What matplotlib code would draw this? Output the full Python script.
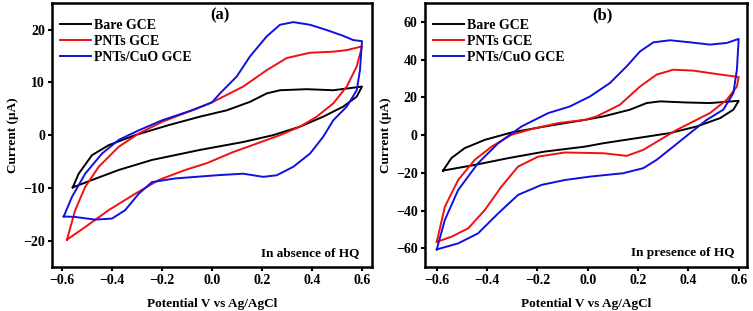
import matplotlib
matplotlib.use("Agg")
import matplotlib.pyplot as plt

plt.rcParams['font.family'] = ['Liberation Serif', 'DejaVu Serif']
plt.rcParams['font.weight'] = 'bold'

# ---- panel (a): in absence of HQ ----
a_bare_v = [-0.557, -0.533, -0.48, -0.413, -0.307, -0.173, -0.048, 0.059, 0.152, 0.219, 0.272, 0.379, 0.485,
            0.552, 0.6,
            0.579, 0.525, 0.445, 0.352, 0.245, 0.125, -0.048, -0.24, -0.373, -0.48, -0.557]
a_bare_i = [-9.9, -7.3, -3.8, -1.9, 0.0, 1.9, 3.5, 4.7, 6.3, 7.9, 8.5, 8.7, 8.5,
            8.9, 9.2,
            7.3, 5.4, 3.5, 1.6, 0.0, -1.3, -2.8, -4.7, -6.6, -8.5, -9.9]

a_pnt_v = [-0.58, -0.547, -0.507, -0.453, -0.373, -0.293, -0.2, -0.08, 0.0, 0.125, 0.219, 0.299, 0.392,
           0.485, 0.539, 0.6,
           0.579, 0.539, 0.485, 0.419, 0.352, 0.272, 0.179, 0.085, -0.02, -0.107, -0.213, -0.307,
           -0.413, -0.507, -0.58]
a_pnt_i = [-19.8, -14.2, -9.8, -6.0, -2.2, 0.3, 2.5, 4.7, 6.2, 9.2, 12.3, 14.6, 15.6,
           15.8, 16.1, 16.8,
           13.0, 9.2, 6.0, 3.5, 1.6, 0.0, -1.6, -3.2, -5.3, -6.6, -8.5, -11.1,
           -14.2, -17.4, -19.8]

a_cuo_v = [-0.593, -0.56, -0.507, -0.44, -0.373, -0.293, -0.2, -0.08, 0.0, 0.032, 0.099, 0.152, 0.219,
           0.272, 0.325, 0.392, 0.459, 0.525, 0.565, 0.6,
           0.592, 0.579, 0.539, 0.485, 0.445, 0.392, 0.325, 0.259, 0.205, 0.125, 0.019, -0.147,
           -0.24, -0.293, -0.347, -0.4, -0.467, -0.547, -0.593]
a_cuo_i = [-15.4, -11.7, -7.3, -3.5, -0.9, 0.9, 2.8, 4.7, 6.2, 7.9, 11.1, 14.9, 18.7,
           20.9, 21.4, 20.9, 19.9, 18.8, 18.0, 17.8,
           12.3, 8.5, 5.4, 2.8, -0.3, -3.5, -6.0, -7.6, -7.9, -7.3, -7.6, -8.2,
           -8.9, -11.1, -14.2, -15.8, -16.0, -15.5, -15.4]

# ---- panel (b): in presence of HQ ----
b_bare_v = [-0.575, -0.542, -0.489, -0.409, -0.303, -0.17, -0.011, 0.062, 0.168, 0.234, 0.287, 0.394,
            0.486, 0.6,
            0.579, 0.526, 0.433, 0.327, 0.195, 0.062, -0.011, -0.17, -0.316, -0.449, -0.575]
b_bare_i = [-18.8, -12.2, -6.9, -2.5, 1.4, 4.6, 8.1, 9.9, 13.5, 17.0, 17.9, 17.3,
            17.0, 18.2,
            13.5, 9.0, 4.6, 1.1, -1.6, -4.3, -6.1, -8.7, -12.2, -15.8, -18.8]

b_pnt_v = [-0.6, -0.568, -0.515, -0.449, -0.382, -0.303, -0.223, -0.117, -0.011, 0.035, 0.128, 0.208,
           0.274, 0.34, 0.42, 0.513, 0.6,
           0.593, 0.553, 0.486, 0.407, 0.354, 0.287, 0.221, 0.155, 0.062, -0.091, -0.197, -0.277,
           -0.343, -0.409, -0.475, -0.542, -0.6]
b_pnt_i = [-56.6, -38.0, -23.8, -13.1, -6.1, 0.2, 3.2, 6.4, 8.1, 9.9, 16.1, 25.8,
           32.1, 34.7, 34.2, 32.4, 30.8,
           25.8, 18.8, 11.7, 6.4, 2.8, -2.5, -7.8, -11.0, -9.6, -9.2, -11.4, -16.7,
           -27.3, -39.7, -49.4, -53.9, -56.6]

b_cuo_v = [-0.6, -0.568, -0.515, -0.436, -0.356, -0.263, -0.157, -0.071, 0.009, 0.088, 0.155, 0.208,
           0.261, 0.327, 0.407, 0.486, 0.553, 0.6,
           0.593, 0.579, 0.539, 0.473, 0.407, 0.34, 0.274, 0.221, 0.141, 0.009, -0.091, -0.184,
           -0.277, -0.356, -0.436, -0.515, -0.6]
b_cuo_i = [-60.6, -45.0, -29.1, -14.9, -4.3, 4.6, 11.7, 15.2, 20.5, 27.6, 36.5, 44.4,
           49.2, 50.3, 49.2, 48.0, 48.9, 51.0,
           34.7, 22.3, 13.5, 8.1, 1.1, -6.1, -13.1, -17.5, -20.2, -22.0, -23.8, -26.4,
           -31.7, -41.5, -52.1, -57.4, -60.6]

labels = ["Bare GCE", "PNTs GCE", "PNTs/CuO GCE"]
colors = ["black", "#f01010", "#1010e0"]


def draw_panel(ax, curves, xlim, ylim, yticks, tag, tag_x, note):
    for (v, i), lab, c in zip(curves, labels, colors):
        ax.plot(v, i, color=c, lw=1.4, label=lab, solid_joinstyle='round')
    ax.set_xlim(*xlim)
    ax.set_ylim(*ylim)
    ax.set_xticks([-0.6, -0.4, -0.2, 0.0, 0.2, 0.4, 0.6])
    ax.set_yticks(yticks)
    ax.tick_params(direction='out', length=3, width=1.5, labelsize=10, pad=2)
    for lab in ax.get_xticklabels() + ax.get_yticklabels():
        lab.set_fontweight('bold')
    for s in ax.spines.values():
        s.set_linewidth(1.8)
    ax.set_xlabel("Potential V vs Ag/AgCl", fontsize=9.5, fontweight='bold', labelpad=8)
    ax.set_ylabel("Current (\u03bcA)", fontsize=9.5, fontweight='bold', labelpad=3)
    ax.text(tag_x, 0.955, tag, transform=ax.transAxes, ha='center', va='center',
            fontsize=12, fontweight='bold')
    ax.text(0.96, 0.055, note, transform=ax.transAxes, ha='right', va='center',
            fontsize=9.5, fontweight='bold')
    ax.legend(loc='upper left', bbox_to_anchor=(0.0, 0.972), frameon=False,
              handlelength=2.2, handletextpad=0.25, labelspacing=0.22, borderaxespad=0.2,
              prop={'weight': 'bold', 'size': 10})


fig = plt.figure(figsize=(7.53, 3.11), dpi=100)
ax1 = fig.add_axes([0.069, 0.141, 0.425, 0.849])
ax2 = fig.add_axes([0.564, 0.141, 0.428, 0.849])

draw_panel(ax1, [(a_bare_v, a_bare_i), (a_pnt_v, a_pnt_i), (a_cuo_v, a_cuo_i)],
           (-0.64, 0.64), (-25, 25), [-20, -10, 0, 10, 20], "(a)", 0.525, "In absence of HQ")
draw_panel(ax2, [(b_bare_v, b_bare_i), (b_pnt_v, b_pnt_i), (b_cuo_v, b_cuo_i)],
           (-0.648, 0.633), (-70, 70), [-60, -40, -20, 0, 20, 40, 60], "(b)", 0.553, "In presence of HQ")

fig.savefig("out.png", dpi=100)
